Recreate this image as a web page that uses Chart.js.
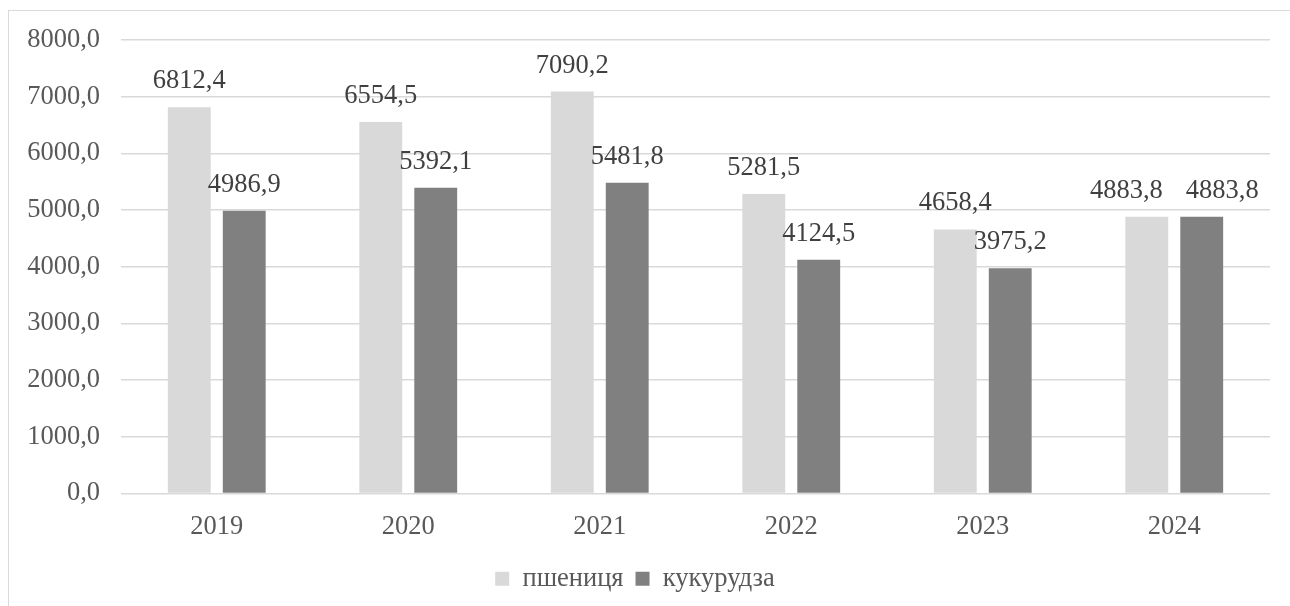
<!DOCTYPE html>
<html>
<head>
<meta charset="utf-8">
<script src="https://cdn.jsdelivr.net/npm/chart.js@4"></script>
<style>
  html, body { margin: 0; padding: 0; background: #fff; }
  #wrap { width: 1290px; height: 606px; position: relative; }
</style>
</head>
<body>
<div id="wrap"><canvas id="chart"></canvas></div>
<script>
// years on the x axis
const years = ["2019", "2020", "2021", "2022", "2023", "2024"];
// thousand tonnes
const wheat = [6812.4, 6554.5, 7090.2, 5281.5, 4658.4, 4883.8];
const corn = [4986.9, 5392.1, 5481.8, 4124.5, 3975.2, 4883.8];
const seriesNames = ["пшениця", "кукурудза"];

const fmt = v => v.toFixed(1).replace(".", ",");
const FONT = "'Liberation Serif', 'Times New Roman', serif";
const FS = 26.5;

// frame around the chart, like the excel chart border
const framePlugin = {
  id: "frame",
  beforeDraw(chart) {
    const ctx = chart.ctx;
    ctx.save();
    ctx.strokeStyle = "#d9d9d9";
    ctx.lineWidth = 1;
    ctx.strokeRect(8.5, 10.5, 1400, 700);
    ctx.restore();
  }
};

// value labels above bars, pushed apart when they collide
const valueLabels = {
  id: "valueLabels",
  afterDatasetsDraw(chart) {
    const ctx = chart.ctx;
    ctx.save();
    ctx.font = FS + "px " + FONT;
    ctx.fillStyle = "#404040";
    ctx.textAlign = "center";
    ctx.textBaseline = "middle";
    const m0 = chart.getDatasetMeta(0), m1 = chart.getDatasetMeta(1);
    years.forEach((_, i) => {
      const a = m0.data[i], b = m1.data[i];
      const ta = fmt(chart.data.datasets[0].data[i]);
      const tb = fmt(chart.data.datasets[1].data[i]);
      let xa = a.x, xb = b.x;
      const ya = a.y - 26, yb = b.y - 26;
      const wa = ctx.measureText(ta).width, wb = ctx.measureText(tb).width;
      if (Math.abs(ya - yb) < FS) {
        const need = wa / 2 + wb / 2 + 23;
        if (xb - xa < need) {
          const push = (need - (xb - xa)) / 2;
          xa -= push; xb += push;
        }
      }
      ctx.fillText(ta, xa, ya);
      ctx.fillText(tb, xb, yb);
    });
    ctx.restore();
  }
};

new Chart(document.getElementById("chart"), {
  type: "bar",
  data: {
    labels: years,
    datasets: [
      { label: seriesNames[0], data: wheat, backgroundColor: "#d9d9d9" },
      { label: seriesNames[1], data: corn, backgroundColor: "#808080" }
    ]
  },
  options: {
    responsive: true,
    maintainAspectRatio: false,
    animation: false,
    categoryPercentage: 0.574,
    barPercentage: 0.78,
    layout: { padding: { top: 40, right: 20, left: 0, bottom: 4 } },
    plugins: {
      title: { display: false },
      tooltip: { enabled: false },
      legend: {
        position: "bottom",
        labels: {
          font: { family: FONT, size: FS },
          color: "#595959",
          boxWidth: 14,
          boxHeight: 14,
          padding: 12
        }
      }
    },
    scales: {
      x: {
        grid: { display: false, drawTicks: false },
        border: { display: false },
        ticks: { font: { family: FONT, size: FS }, color: "#595959", padding: 18 },
        afterFit(s) { s.height = 60; }
      },
      y: {
        min: 0,
        max: 8000,
        ticks: {
          stepSize: 1000,
          font: { family: FONT, size: FS },
          color: "#595959",
          padding: 21,
          callback: v => fmt(v)
        },
        grid: { color: "#d9d9d9", lineWidth: 1.5, drawTicks: false },
        border: { display: false },
        afterFit(s) { s.width = 121; }
      }
    }
  },
  plugins: [framePlugin, valueLabels]
});
</script>
</body>
</html>
